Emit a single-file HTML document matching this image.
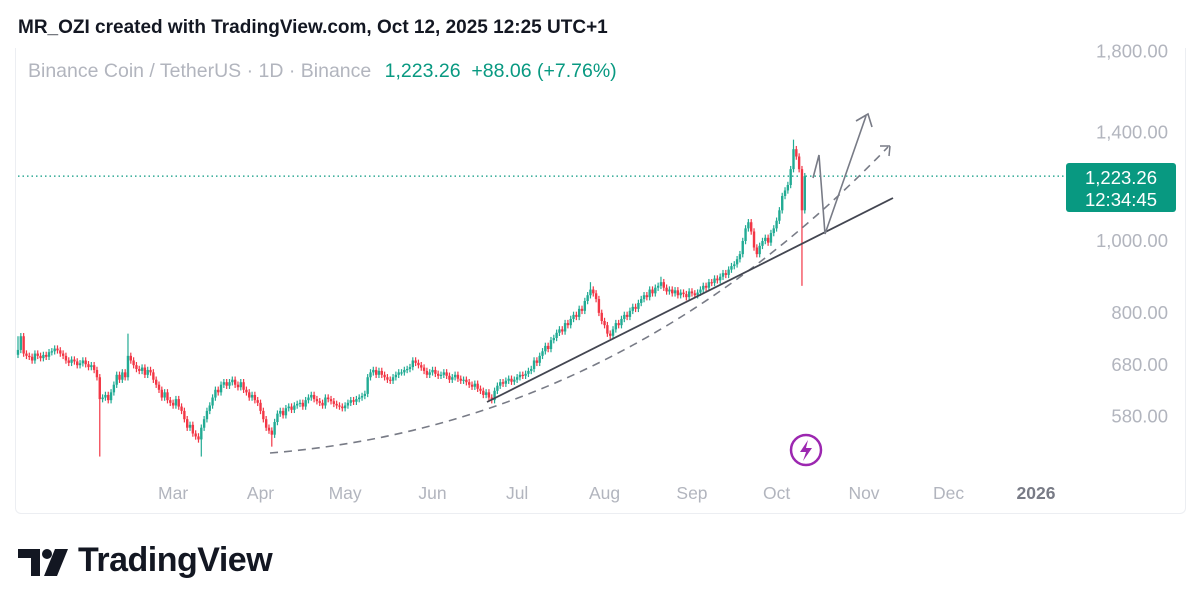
<!DOCTYPE html>
<html><head><meta charset="utf-8">
<style>
body{margin:0;width:1200px;height:610px;background:#fff;font-family:"Liberation Sans",sans-serif;overflow:hidden;position:relative}
.t{position:absolute;white-space:nowrap}
</style></head><body>
<div class="t" style="left:18px;top:17px;font-size:19px;font-weight:bold;color:#131722;">MR_OZI created with TradingView.com, Oct 12, 2025 12:25 UTC+1</div>
<div style="position:absolute;left:15px;top:48px;width:1169px;height:465px;border:1px solid #eceef2;border-top:none;border-radius:0 0 6px 6px"></div>
<div class="t" style="left:28px;top:60px;font-size:19.5px;color:#b2b5be">Binance Coin / TetherUS · 1D · Binance <span style="color:#089981;margin-left:8px">1,223.26 &nbsp;+88.06 (+7.76%)</span></div>
<svg id="c" width="1200" height="610" style="position:absolute;left:0;top:0"></svg>
<svg width="60" height="40" style="position:absolute;left:18px;top:545px">
<path d="M0 4H22V31H13V13H0Z" fill="#131722"/><circle cx="29" cy="9" r="5" fill="#131722"/><path d="M37 4H50L39 31H26Z" fill="#131722"/></svg>
<div class="t" style="left:78px;top:541px;font-size:34px;font-weight:bold;color:#131722;letter-spacing:-0.5px">TradingView</div>
<script>
const closes=[713,744,705,700,
698,690,705,700,695,702,698,708,
710,716,712,705,
700,690,685,692,688,680,684,690,682,676,
680,670,655,
612,
615,620,610,
625,640,660,650,665,655,
700,
690,680,672,668,675,660,670,665,650,
640,630,615,625,610,605,600,612,598,
590,575,560,565,550,545,540,
560,
575,590,600,615,630,625,640,645,638,
645,650,640,635,645,630,625,615,620,610,605,
590,575,560,555,548,570,
585,590,582,595,598,592,600,603,
605,598,610,615,620,612,608,605,600,615,612,608,603,600,598,
595,600,605,610,607,612,615,618,622,
655,665,670,660,668,
660,655,650,648,655,660,665,
665,670,672,676,690,685,680,
675,668,660,665,670,662,658,660,
665,658,650,655,660,652,648,
650,645,640,636,642,632,628,620,625,615,610,
628,638,645,642,648,652,646,650,655,660,658,662,668,
672,690,685,700,710,722,715,735,740,752,
760,755,775,770,785,795,790,810,805,
830,845,860,850,835,
800,780,770,750,745,
760,775,770,785,795,790,805,815,810,825,
835,845,840,860,850,865,870,880,
865,855,860,850,858,845,852,848,840,855,850,845,852,
860,870,865,880,878,890,885,
895,905,900,915,925,930,945,960,
1000,1040,1060,1030,
980,960,985,1000,
1010,995,1025,1040,1065,
1100,1150,1170,1190,
1250,1330,1300,
1250,1100,1223];
const spikeIdx=[0,29,39,65,90,228,275,278,203];
const spikeVal=[744,512,750,512,528,895,1370,870,880];
const yTicks=[1800,1400,1000,800,680,580];
const months=["Mar","Apr","May","Jun","Jul","Aug","Sep","Oct","Nov","Dec","2026"];
const monthDay=[55,86,116,147,177,208,239,269,300,330,361];
const lastPrice=1223.26;

const NS="http://www.w3.org/2000/svg",svg=document.getElementById('c');
const X=i=>18+i*2.82;
const Y=v=>241-322*Math.log(v/1000);
function el(tag,a,par){const e=document.createElementNS(NS,tag);for(const k in a)e.setAttribute(k,a[k]);(par||svg).appendChild(e);return e;}
yTicks.forEach(v=>{const t=el('text',{x:1168,y:Y(v)+6,'text-anchor':'end','font-size':18.5,fill:'#b2b5be','font-family':'Liberation Sans'});t.textContent=v.toLocaleString('en-US',{minimumFractionDigits:2});

});
months.forEach((m,i)=>{const t=el('text',{x:X(monthDay[i]),y:499,'text-anchor':'middle','font-size':17.5,fill:m==='2026'?'#787b86':'#b2b5be','font-weight':m==='2026'?'bold':'normal','font-family':'Liberation Sans'});t.textContent=m;

});
const pl=el('line',{x1:18,x2:1066,y1:Y(lastPrice),y2:Y(lastPrice),stroke:'#089981','stroke-width':1.3,'stroke-dasharray':'1.5 3'});


closes.forEach((c,i)=>{const o=i?closes[i-1]:c*0.985;const up=c>=o;const col=up?'#22ab94':'#f23645';
let h=Math.max(o,c)*1.01,l=Math.min(o,c)*0.99;const k=spikeIdx.indexOf(i);
if(k>=0){if(spikeVal[k]>Math.max(o,c))h=spikeVal[k];else l=spikeVal[k];}
const g=el('g',{});


el('line',{x1:X(i),x2:X(i),y1:Y(h),y2:Y(l),stroke:col,'stroke-width':1.2},g);
const y1=Y(Math.max(o,c)),y2=Y(Math.min(o,c));
el('rect',{x:X(i)-1.2,y:y1,width:2.4,height:Math.max(1.2,y2-y1),fill:col},g);});
const dc=el('path',{d:'M270 453 Q620 425 888 147',fill:'none',stroke:'#787b86','stroke-width':1.6,'stroke-dasharray':'8 6'});


const tk=el('path',{d:'M880 146L890 146M890 146L889 156',fill:'none',stroke:'#787b86','stroke-width':1.5});


const sl=el('line',{x1:487,y1:402,x2:893,y2:198,stroke:'#434651','stroke-width':1.8});


const ar=el('path',{d:'M813 178L819 155L825 234L866 116M856 121L868 114L872 127',fill:'none',stroke:'#787b86','stroke-width':1.6});


const li=el('g',{});


el('circle',{cx:806,cy:450,r:15,fill:'#fff',stroke:'#9c27b0','stroke-width':2.5},li);
el('path',{d:'M808 440L800 452H806L803 461L812 448H806Z',fill:'#9c27b0'},li);
const pb=el('g',{});


el('rect',{x:1066,y:163,width:110,height:49,rx:3,fill:'#089981'},pb);
const t1=el('text',{x:1121,y:184,'text-anchor':'middle','font-size':18.5,fill:'#fff','font-family':'Liberation Sans'},pb);t1.textContent='1,223.26';
const t2=el('text',{x:1121,y:206,'text-anchor':'middle','font-size':18.5,fill:'#fff','font-family':'Liberation Sans'},pb);t2.textContent='12:34:45';
</script>
</body></html>
